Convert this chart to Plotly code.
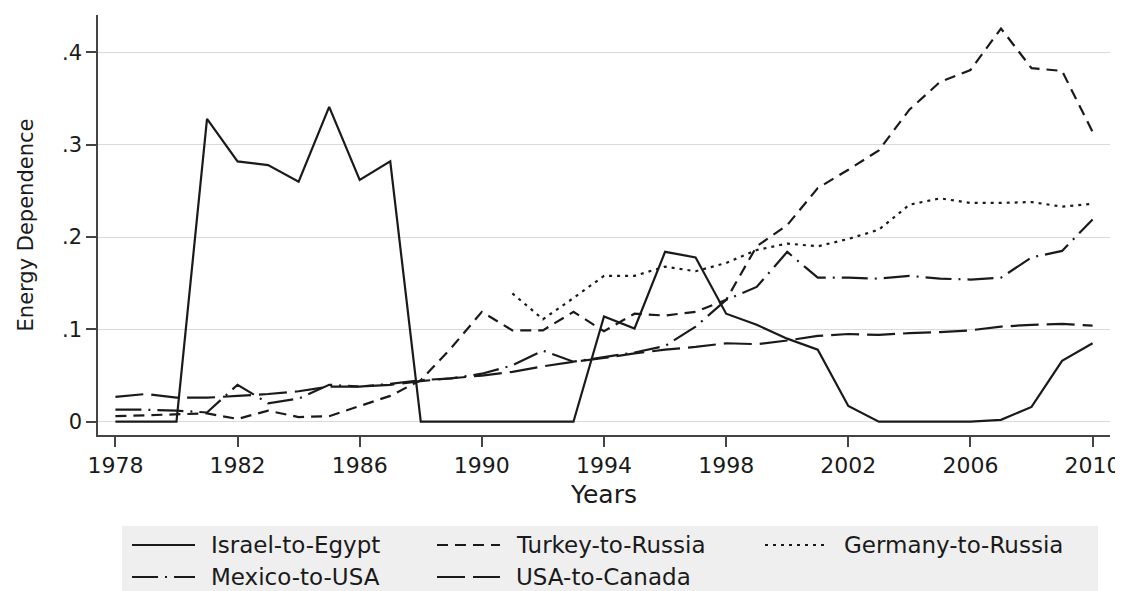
import plotly.graph_objects as go

years = list(range(1978, 2011))

israel_egypt = [0, 0, 0, 0.328, 0.282, 0.278, 0.260, 0.341, 0.262, 0.282,
                0, 0, 0, 0, 0, 0, 0.114, 0.101, 0.184, 0.178,
                0.117, 0.105, 0.090, 0.078, 0.017, 0, 0, 0, 0, 0.002,
                0.016, 0.066, 0.085]
turkey_russia = [0.006, 0.007, 0.008, 0.009, 0.003, 0.012, 0.005, 0.006, 0.017, 0.028,
                 0.045, 0.080, 0.119, 0.099, 0.099, 0.119, 0.098, 0.117, 0.115, 0.119,
                 0.132, 0.190, 0.213, 0.253, 0.273, 0.294, 0.338, 0.368, 0.381, 0.426,
                 0.383, 0.380, 0.314]
germany_russia = [None] * 13 + [0.139, 0.111, 0.134, 0.158, 0.158, 0.168, 0.163,
                                0.172, 0.186, 0.193, 0.190, 0.198, 0.208, 0.235, 0.242, 0.237, 0.237,
                                0.238, 0.233, 0.236]
mexico_usa = [0.013, 0.013, 0.012, 0.010, 0.040, 0.020, 0.025, 0.040, 0.038, 0.041,
              0.045, 0.047, 0.052, 0.061, 0.077, 0.065, 0.070, 0.075, 0.082, 0.103,
              0.132, 0.146, 0.184, 0.156, 0.156, 0.155, 0.158, 0.155, 0.154, 0.156,
              0.178, 0.185, 0.219]
usa_canada = [0.027, 0.030, 0.026, 0.026, 0.028, 0.030, 0.033, 0.038, 0.038, 0.040,
              0.044, 0.047, 0.050, 0.054, 0.060, 0.065, 0.069, 0.074, 0.078, 0.081,
              0.085, 0.084, 0.088, 0.093, 0.095, 0.094, 0.096, 0.097, 0.099, 0.103,
              0.105, 0.106, 0.104]

series_names = ["Israel-to-Egypt", "Turkey-to-Russia", "Germany-to-Russia",
                "Mexico-to-USA", "USA-to-Canada"]
series_values = [israel_egypt, turkey_russia, germany_russia, mexico_usa, usa_canada]
series_dash = ["solid", "11px,7px", "3px,5px", "26px,7px,2px,7px", "28px,8px"]

x_ticks = [1978, 1982, 1986, 1990, 1994, 1998, 2002, 2006, 2010]
y_ticks = [0, 0.1, 0.2, 0.3, 0.4]
y_ticklabels = ["0", ".1", ".2", ".3", ".4"]

FONT = "DejaVu Sans"
INK = "#1a1a1a"
W, H = 1123, 591
OFF = 8  # page body margin offset
# desired plot area in page pixels: left 98, right 1110, top 15, bottom 435
L = 98 - OFF
T = 15 - OFF
R = W - (1110 - OFF)
B = H - (435 - OFF)

fig = go.Figure()
for name, vals, dash in zip(series_names, series_values, series_dash):
    fig.add_trace(go.Scatter(x=years, y=vals, mode="lines", name=name,
                             line=dict(color=INK, width=2.2, dash=dash),
                             connectgaps=False, showlegend=False))

pw = W - L - R
ph = H - T - B
def px(p):  # page pixel x -> paper
    return (p - OFF - L) / pw
def py(p):  # page pixel y -> paper
    return (H - B - (p - OFF)) / ph

shapes = [dict(type="rect", xref="paper", yref="paper",
               x0=px(122), x1=px(1098), y0=py(526), y1=py(591),
               fillcolor="#efefef", line=dict(width=0), layer="below")]
annotations = []
legend_pos = [(132, 545), (437, 545), (765, 545), (132, 577), (437, 577)]
for (lx, ly), name, dash in zip(legend_pos, series_names, series_dash):
    shapes.append(dict(type="line", xref="paper", yref="paper",
                       x0=px(lx), x1=px(lx + 63), y0=py(ly), y1=py(ly),
                       line=dict(color=INK, width=2.2, dash=dash)))
    annotations.append(dict(xref="paper", yref="paper", x=px(lx + 77), y=py(ly),
                            text=name, showarrow=False, xanchor="left", yanchor="middle",
                            font=dict(family=FONT, size=23, color=INK)))

fig.update_layout(
    width=W, height=H,
    margin=dict(l=L, r=R, t=T, b=B),
    paper_bgcolor="white", plot_bgcolor="white",
    font=dict(family=FONT, color=INK),
    shapes=shapes, annotations=annotations,
    xaxis=dict(range=[1977.43, 2010.57], tickvals=x_ticks, showgrid=False,
               zeroline=False, showline=True, linecolor="#444", linewidth=1.5,
               ticks="outside", ticklen=10, tickcolor="#444", tickwidth=1.5,
               tickfont=dict(family=FONT, size=22, color=INK),
               title=dict(text="Years", font=dict(family=FONT, size=25, color=INK), standoff=8)),
    yaxis=dict(range=[-0.0144, 0.4406], tickvals=y_ticks, ticktext=y_ticklabels,
               showgrid=True, gridcolor="#dadada", gridwidth=1,
               zeroline=False, showline=True, linecolor="#444", linewidth=1.5,
               ticks="outside", ticklen=10, tickcolor="#444", tickwidth=1.5,
               tickfont=dict(family=FONT, size=21, color=INK),
               title=dict(text="Energy Dependence", font=dict(family=FONT, size=21, color=INK),
                          standoff=23)),
)

fig.write_html("out.html")
